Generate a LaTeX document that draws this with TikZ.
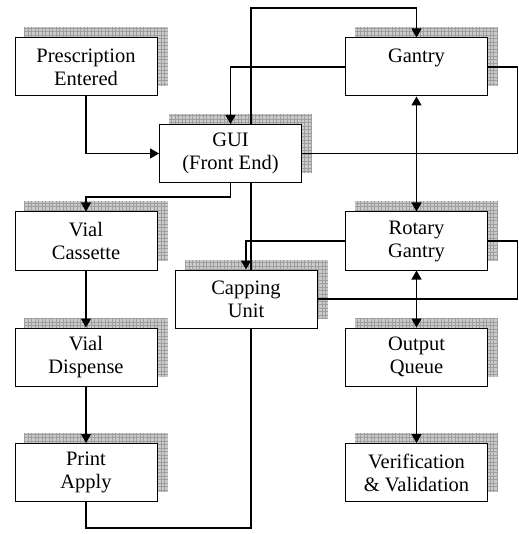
\documentclass[tikz,border=0pt]{standalone}
\usepackage{fontspec}
\setmainfont{Liberation Serif}
\usetikzlibrary{arrows.meta,calc}
\pgfdeclarelayer{shad}
\pgfdeclarelayer{wires}
\pgfsetlayers{shad,wires,main}
\definecolor{shadefill}{RGB}{204,204,204}
\definecolor{shadegrid}{RGB}{158,158,158}
\tikzset{
  unit/.style={draw,line width=1pt,fill=white,minimum width=142pt,minimum height=58pt,inner sep=0pt,align=center,font=\rmfamily\fontsize{20.5}{23}\selectfont},
  wire/.style={line width=1.3pt},
  flow/.style={wire,-{Triangle[width=10pt,length=9pt]}},
  both/.style={wire,{Triangle[width=10pt,length=9pt]}-{Triangle[width=10pt,length=9pt]}},
  shadow/.style={shadegrid,line width=0.5pt,step=3.5pt}
}

\begin{document}
\begin{tikzpicture}[x=1pt,y=-1pt]
  \useasboundingbox (0,0) rectangle (518,534);
  \node[unit] (presc) at (86,67) {Prescription\\Entered};
  \node[unit] (gui) at (230.5,153.5) {GUI\\(Front End)};
  \node[unit] (gantry) at (416.5,67) {Gantry\\\mbox{}};
  \node[unit] (cassette) at (86,241) {Vial\\Cassette};
  \node[unit] (rotary) at (416.5,241) {Rotary\\Gantry};
  \node[unit] (capping) at (246,299) {Capping\\Unit};
  \node[unit] (dispense) at (86,357) {Vial\\Dispense};
  \node[unit] (queue) at (416.5,357) {Output\\Queue};
  \node[unit] (print) at (86,472.5) {Print\\Apply};
  \node[unit] (verif) at (416.5,472.5) {Verification\\\& Validation};
  \begin{pgfonlayer}{shad}
    \foreach \n in {presc,gui,gantry,cassette,rotary,capping,dispense,queue,print,verif}{
      \fill[shadefill] ($(\n.south west)+(10,-10)$) rectangle ($(\n.north east)+(10,-10)$);
      \draw[shadow] ($(\n.north west)+(10,-10)$) grid ($(\n.south east)+(10,-10)$);
    }
  \end{pgfonlayer}
  \begin{pgfonlayer}{wires}
    \coordinate (bl) at (251,528);
    \coordinate (tl) at (251,8);
    \draw[flow] (presc.south) |- (gui.west);
    \draw[flow] (gantry.west) -| (gui.north);
    \draw[flow] (print.south) |- (bl) -- (tl) -| (gantry.north);
    \draw[flow] (gui.south) -- ++(0,14) -| (cassette.north);
    \draw[wire] (gantry.east) -- ++(29.5,0) |- (gui.east);
    \draw[both] (gantry.south) -- (rotary.north);
    \draw[flow] (rotary.west) -| (capping.north);
    \draw[wire] (rotary.east) -- ++(29.5,0) |- (capping.east);
    \draw[both] (rotary.south) -- (queue.north);
    \draw[flow] (queue.south) -- (verif.north);
    \draw[flow] (cassette.south) -- (dispense.north);
    \draw[flow] (dispense.south) -- (print.north);
  \end{pgfonlayer}
\end{tikzpicture}
\end{document}
